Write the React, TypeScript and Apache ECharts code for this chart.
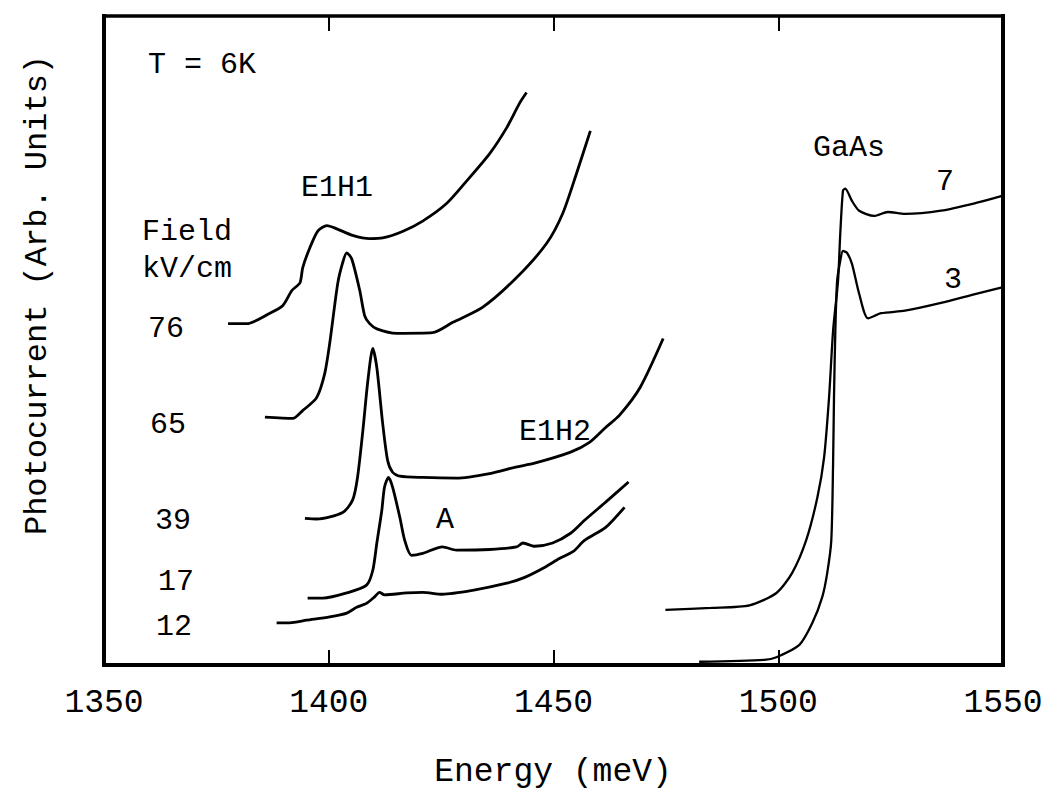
import React, { useEffect, useRef } from "react";
import * as echarts from "echarts";

const FONT = '"Liberation Mono", "Courier New", monospace';

// Energy axis ticks (meV)
const energyMin = 1350;
const energyMax = 1550;
const energyStep = 50;

// Field curves (kV/cm): [energy meV, photocurrent arb.]
const curve76: [number, number][] = [
  [1377.6, 52.6], [1381.8, 52.6], [1386.9, 54.2], [1389.8, 55.4], [1391.8, 57.7],
  [1393.6, 58.9], [1394.2, 61.2], [1395.8, 64.3], [1397.6, 66.9], [1399.6, 67.7],
  [1401.8, 67.2], [1405.3, 66.2], [1409.1, 65.7], [1412.0, 65.8], [1416.4, 66.8],
  [1420.9, 68.4], [1426.2, 71.1], [1430.7, 74.6], [1435.8, 78.8], [1439.6, 82.8],
  [1442.4, 86.5], [1444.0, 88.2],
];
const curve65: [number, number][] = [
  [1385.8, 38.2], [1392.0, 38.0], [1394.2, 39.2], [1397.3, 41.2], [1399.1, 44.9],
  [1400.2, 49.5], [1402.0, 58.8], [1403.1, 62.0], [1404.0, 63.5], [1405.1, 62.6],
  [1406.9, 57.7], [1408.0, 53.8], [1409.1, 52.6], [1410.7, 51.8], [1415.1, 51.1],
  [1423.1, 51.2], [1427.6, 52.8], [1434.2, 55.1], [1441.8, 59.7], [1448.4, 64.9],
  [1452.0, 69.5], [1455.1, 75.7], [1458.2, 82.3],
];
const curve39: [number, number][] = [
  [1394.7, 22.6], [1397.3, 22.5], [1403.1, 23.5], [1405.3, 25.4], [1406.4, 28.9],
  [1407.6, 36.2], [1408.7, 43.8], [1409.8, 48.8], [1410.7, 45.8], [1412.0, 37.2],
  [1413.1, 31.5], [1414.2, 29.7], [1415.8, 29.1], [1420.9, 28.9], [1428.4, 28.8],
  [1435.8, 29.5], [1441.6, 30.5], [1445.8, 31.1], [1453.8, 32.8], [1458.0, 34.3],
  [1461.6, 36.6], [1464.7, 38.5], [1469.3, 42.8], [1474.4, 50.3],
];
const curve17: [number, number][] = [
  [1395.3, 10.3], [1398.7, 10.3], [1404.0, 11.1], [1408.4, 12.3], [1409.8, 14.6],
  [1410.7, 18.8], [1411.8, 23.8], [1412.4, 27.4], [1413.3, 28.9], [1414.2, 27.4],
  [1415.8, 22.8], [1416.9, 19.2], [1418.4, 16.9], [1420.9, 17.2], [1425.3, 18.2],
  [1428.4, 17.7], [1435.8, 17.8], [1441.8, 18.2], [1443.2, 18.8],
  [1445.8, 18.3], [1449.8, 18.8], [1453.8, 20.3], [1456.9, 22.3], [1461.6, 25.1],
  [1466.7, 28.2],
];
const curve12: [number, number][] = [
  [1388.4, 6.5], [1391.3, 6.5], [1395.1, 6.9], [1400.2, 7.4], [1404.0, 8.0],
  [1406.2, 8.9], [1408.4, 9.5], [1410.2, 10.5], [1411.3, 11.2], [1412.4, 10.8],
  [1417.3, 11.1], [1420.9, 11.2], [1425.3, 10.9], [1432.0, 11.5], [1439.6, 12.6],
  [1443.6, 13.5], [1448.2, 15.1], [1451.3, 16.4], [1454.4, 17.5], [1456.9, 19.2],
  [1461.6, 21.2], [1465.8, 24.3],
];
// GaAs reference curves
const gaas7: [number, number][] = [
  [1474.9, 8.5], [1485.1, 8.8], [1493.6, 9.2], [1499.6, 11.1], [1503.1, 14.2],
  [1506.2, 19.2], [1508.7, 25.8], [1510.2, 32.0], [1511.3, 41.2], [1512.2, 51.5],
  [1513.3, 59.2], [1513.8, 66.5], [1514.4, 73.1], [1514.9, 73.4], [1516.4, 71.5],
  [1518.0, 70.0], [1521.3, 69.2], [1524.4, 69.8], [1528.2, 69.5], [1536.2, 70.0],
  [1544.0, 71.2], [1549.8, 72.3],
];
const gaas3: [number, number][] = [
  [1482.4, 0.5], [1496.9, 0.8], [1499.6, 1.2], [1504.7, 3.1], [1507.6, 6.5],
  [1509.8, 10.5], [1510.9, 14.2], [1511.8, 19.2], [1512.2, 31.1], [1512.4, 41.2],
  [1512.7, 51.5], [1513.1, 59.2], [1513.8, 62.3], [1514.4, 63.8], [1515.3, 63.5],
  [1516.4, 61.8], [1518.0, 57.2], [1520.0, 53.4], [1522.9, 54.2], [1528.2, 54.6],
  [1536.2, 55.8], [1544.0, 57.2], [1549.8, 58.2],
];

const fieldLabels = ["76", "65", "39", "17", "12"];

export default function App() {
  const ref = useRef<HTMLDivElement>(null);
  useEffect(() => {
    document.body.style.margin = "0";
    const chart = echarts.init(ref.current!, null, { renderer: "svg" });
    const line = (name: string, data: [number, number][], w: number) => ({
      type: "line",
      name,
      data,
      showSymbol: false,
      symbol: "none",
      smooth: 0.25,
      lineStyle: { color: "#000", width: w },
      z: 3,
    });
    const txt = (text: string, x: number, y: number, size = 30, rot = 0) => ({
      type: "text",
      x,
      y,
      rotation: rot,
      style: {
        text,
        fill: "#000",
        fontSize: size,
        fontFamily: FONT,
        textAlign: "center",
        textVerticalAlign: "middle",
        align: "center",
        verticalAlign: "middle",
      },
    });
    const fieldY = [329, 425, 521, 582, 627];
    const fieldX = [166, 168, 173, 176, 174];
    const axLine = (w: number) => ({ show: true, onZero: false, lineStyle: { color: "#000", width: w, cap: "square" } });
    const tick = { show: true, inside: true, length: 15, lineStyle: { color: "#000", width: 2 } };
    chart.setOption({
      animation: false,
      backgroundColor: "#fff",
      grid: { left: 104, right: 52, top: 16, bottom: 126 },
      xAxis: [
        {
          type: "value",
          min: energyMin,
          max: energyMax,
          interval: energyStep,
          position: "bottom",
          axisLine: axLine(4),
          splitLine: { show: false },
          axisTick: tick,
          axisLabel: {
            margin: 22,
            color: "#000",
            fontSize: 33,
            fontFamily: FONT,
            formatter: (v: number) => String(v),
          },
        },
        {
          type: "value",
          min: energyMin,
          max: energyMax,
          interval: energyStep,
          position: "top",
          axisLine: axLine(3.5),
          splitLine: { show: false },
          axisTick: tick,
          axisLabel: { show: false },
        },
      ],
      yAxis: [
        {
          type: "value",
          min: 0,
          max: 100,
          position: "left",
          axisLine: axLine(4),
          axisTick: { show: false },
          axisLabel: { show: false },
          splitLine: { show: false },
        },
        {
          type: "value",
          min: 0,
          max: 100,
          position: "right",
          axisLine: axLine(4),
          axisTick: { show: false },
          axisLabel: { show: false },
          splitLine: { show: false },
        },
      ],
      series: [
        line("76", curve76, 2.8),
        line("65", curve65, 2.8),
        line("39", curve39, 2.8),
        line("17", curve17, 2.8),
        line("12", curve12, 2.8),
        line("GaAs 7", gaas7, 2.3),
        line("GaAs 3", gaas3, 2.3),
      ],
      graphic: [
        txt("Photocurrent (Arb. Units)", 37, 295, 32, Math.PI / 2),
        txt("Energy (meV)", 553, 772, 33),
        txt("T = 6K", 202, 65, 30),
        txt("E1H1", 337, 188, 30),
        txt("Field", 187, 232, 30),
        txt("kV/cm", 187, 269, 30),
        ...fieldLabels.map((l, i) => txt(l, fieldX[i], fieldY[i], 30)),
        txt("E1H2", 555, 432, 30),
        txt("A", 445, 520, 30),
        txt("GaAs", 849, 148, 30),
        txt("7", 945, 182, 30),
        txt("3", 953, 280, 30),
      ],
    });
    return () => chart.dispose();
  }, []);
  return <div ref={ref} style={{ width: 1055, height: 791 }} />;
}
